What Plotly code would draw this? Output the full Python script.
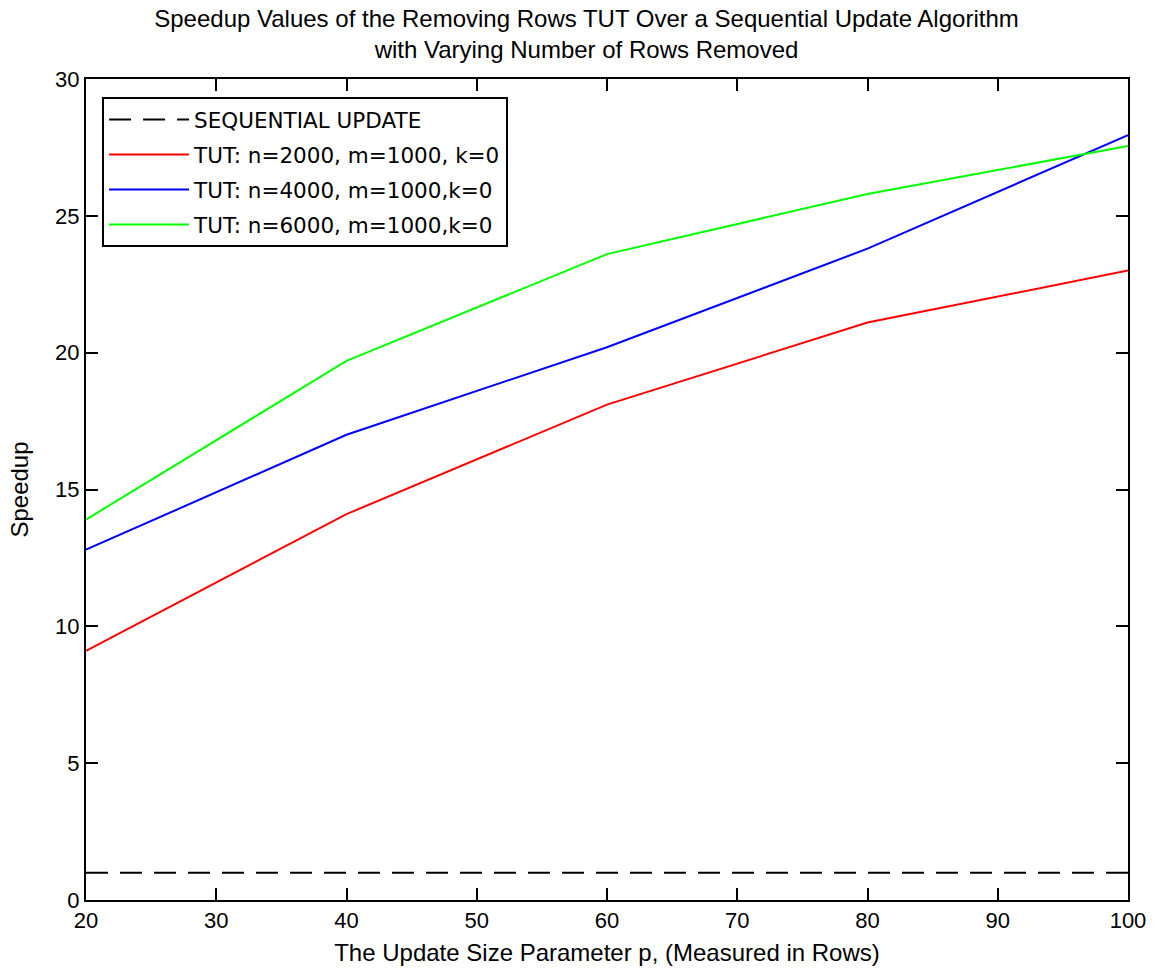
import plotly.graph_objects as go

# Update size p (rows) and measured speedups
p_rows = [20, 40, 60, 80, 100]
speedup_n2000 = [9.1, 14.1, 18.1, 21.1, 23.0]
speedup_n4000 = [12.8, 17.0, 20.2, 23.8, 27.95]
speedup_n6000 = [13.9, 19.7, 23.6, 25.8, 27.55]
sequential_baseline = [1, 1, 1, 1, 1]

series_names = [
    "SEQUENTIAL UPDATE",
    "TUT: n=2000, m=1000, k=0",
    "TUT: n=4000, m=1000,k=0",
    "TUT: n=6000, m=1000,k=0",
]

x_ticks = [20, 30, 40, 50, 60, 70, 80, 90, 100]
y_ticks = [0, 5, 10, 15, 20, 25, 30]

FONT = "Liberation Sans, Arial, sans-serif"
LEGEND_FONT = "DejaVu Sans, sans-serif"

fig = go.Figure()
fig.add_trace(go.Scatter(
    x=p_rows, y=sequential_baseline, mode="lines", name=series_names[0],
    legendgroup="g0",
    line=dict(color="black", width=2, dash="22px,12px"),
))
for i, (ys, color, name) in enumerate([
    (speedup_n2000, "#ff0000", series_names[1]),
    (speedup_n4000, "#0000ff", series_names[2]),
    (speedup_n6000, "#00ff00", series_names[3]),
]):
    fig.add_trace(go.Scatter(
        x=p_rows, y=ys, mode="lines", name=name, legendgroup=f"g{i + 1}",
        line=dict(color=color, width=2),
    ))

axis_common = dict(
    showline=True, linecolor="black", linewidth=2, mirror="ticks",
    ticks="inside", ticklen=12, tickwidth=2, tickcolor="black",
    showgrid=False, zeroline=False,
    tickfont=dict(family=FONT, size=22, color="black"),
)

fig.update_layout(
    width=1166, height=974,
    paper_bgcolor="white", plot_bgcolor="white",
    margin=dict(l=86, r=38, t=79, b=74),
    font=dict(family=FONT, size=21, color="black"),
    title=dict(
        text="Speedup Values of the Removing Rows TUT Over a Sequential Update Algorithm"
             "<br>with Varying Number of Rows Removed",
        x=0.503, xanchor="center", y=0.972, yanchor="middle",
        font=dict(family=FONT, size=24, color="black"),
    ),
    xaxis=dict(
        range=[20, 100], tickvals=x_ticks,
        title=dict(text="The Update Size Parameter p, (Measured in Rows)", standoff=12,
                   font=dict(family=FONT, size=24, color="black")),
        **axis_common,
    ),
    yaxis=dict(
        range=[0, 30], tickvals=y_ticks,
        title=dict(text="Speedup", standoff=20,
                   font=dict(family=FONT, size=24, color="black")),
        **axis_common,
    ),
    legend=dict(
        x=0.0154, y=0.978, xanchor="left", yanchor="top",
        bgcolor="white", bordercolor="black", borderwidth=2,
        font=dict(family=LEGEND_FONT, size=21.5, color="black"),
        itemwidth=80, tracegroupgap=4,
    ),
)

fig.write_html("out.html")
